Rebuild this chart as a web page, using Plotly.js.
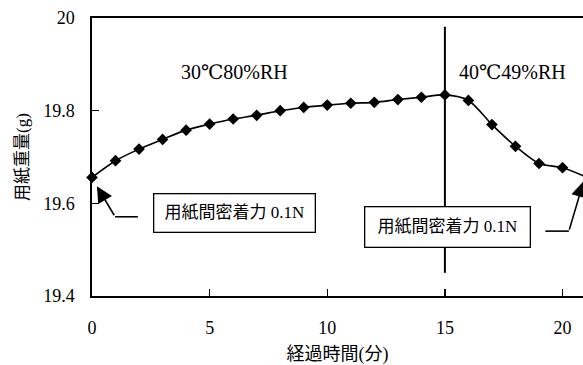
<!DOCTYPE html>
<html>
<head>
<meta charset="utf-8">
<script src="https://cdn.plot.ly/plotly-3.0.1.min.js"></script>
<style>html,body{margin:0;padding:0;background:#fff;overflow:hidden}#chart{width:583px;height:365px}</style>
</head>
<body>
<div id="chart"></div>
<script>
// Data
const minutes = [0,1,2,3,4,5,6,7,8,9,10,11,12,13,14,15,16,17,18,19,20,21];
const paperWeight = [19.656,19.692,19.717,19.738,19.758,19.771,19.782,19.790,19.800,19.807,19.812,19.816,19.818,19.824,19.829,19.834,19.822,19.770,19.723,19.686,19.677,19.657];
const xTicks = [0,5,10,15,20];
const yTicks = [19.4,19.6,19.8,20];
const yTickLabels = ['19.4','19.6','19.8','20'];
const conditionLabels = ['30℃80%RH','40℃49%RH'];
const adhesionLabel = '用紙間密着力 0.1N';
const switchTime = 15;

const FONT = 'Liberation Serif, DejaVu Serif, Noto Sans CJK JP, serif';

const trace = {
  x: minutes, y: paperWeight, type: 'scatter', mode: 'lines+markers',
  line: {color: '#000', width: 1.6, shape: 'spline', smoothing: 0.8},
  marker: {symbol: 'diamond', size: 9, color: '#000'},
  cliponaxis: false, hoverinfo: 'none'
};

const layout = {
  width: 583, height: 365,
  margin: {l: 92, r: 0, t: 18, b: 69},
  paper_bgcolor: '#fff', plot_bgcolor: '#fff',
  showlegend: false,
  font: {family: FONT, color: '#000', size: 18},
  xaxis: {
    range: [0, 20.87], tickvals: xTicks, ticks: 'inside', ticklen: 7, tickwidth: 1.3, tickcolor: '#000',
    showline: true, linecolor: '#000', linewidth: 1.6, mirror: true, showgrid: false, zeroline: false,
    tickfont: {family: FONT, size: 18}, ticklabelstandoff: 15,
    title: {text: '経過時間(分)', font: {family: FONT, size: 18}, standoff: 12}
  },
  yaxis: {
    range: [19.4, 20], tickvals: yTicks, ticktext: yTickLabels, ticks: 'inside', ticklen: 7, tickwidth: 1.3, tickcolor: '#000',
    showline: true, linecolor: '#000', linewidth: 1.6, showgrid: false, zeroline: false,
    tickfont: {family: FONT, size: 18}, ticklabelstandoff: 12,
    title: {text: '用紙重量(g)', font: {family: FONT, size: 17}, standoff: 10}
  },
  shapes: [
    {type: 'line', xref: 'x', yref: 'y', x0: switchTime, x1: switchTime, y0: 19.45, y1: 19.981, line: {color: '#000', width: 2}},
    {type: 'line', xref: 'x', yref: 'y', x0: 1.95, x1: 0.98, y0: 19.571, y1: 19.571, line: {color: '#000', width: 1.6}},
    {type: 'line', xref: 'x', yref: 'y', x0: 19.27, x1: 20.27, y0: 19.540, y1: 19.540, line: {color: '#000', width: 1.6}}
  ],
  annotations: [
    {xref: 'x', yref: 'y', x: 6.07, y: 19.883, text: conditionLabels[0], showarrow: false, font: {family: FONT, size: 20}},
    {xref: 'x', yref: 'y', x: 17.86, y: 19.883, text: conditionLabels[1], showarrow: false, font: {family: FONT, size: 20}},
    {xref: 'x', yref: 'y', x: 6.05, y: 19.580, text: adhesionLabel, showarrow: false, font: {family: FONT, size: 17},
     bgcolor: '#fff', bordercolor: '#000', borderwidth: 1.3, borderpad: 0, width: 160, height: 37},
    {xref: 'x', yref: 'y', x: 15.12, y: 19.549, text: adhesionLabel, showarrow: false, font: {family: FONT, size: 17},
     bgcolor: '#fff', bordercolor: '#000', borderwidth: 1.3, borderpad: 0, width: 164, height: 39},
    {xref: 'x', yref: 'y', x: 0.21, y: 19.637, axref: 'x', ayref: 'y', ax: 0.98, ay: 19.571, text: '', showarrow: true,
     arrowhead: 2, arrowsize: 2, arrowwidth: 1.6, arrowcolor: '#000', standoff: 0},
    {xref: 'x', yref: 'y', x: 20.9, y: 19.648, axref: 'x', ayref: 'y', ax: 20.27, ay: 19.540, text: '', showarrow: true,
     arrowhead: 2, arrowsize: 2, arrowwidth: 1.6, arrowcolor: '#000', standoff: 0}
  ]
};

Plotly.newPlot('chart', [trace], layout, {displayModeBar: false, staticPlot: true});
</script>
</body>
</html>
